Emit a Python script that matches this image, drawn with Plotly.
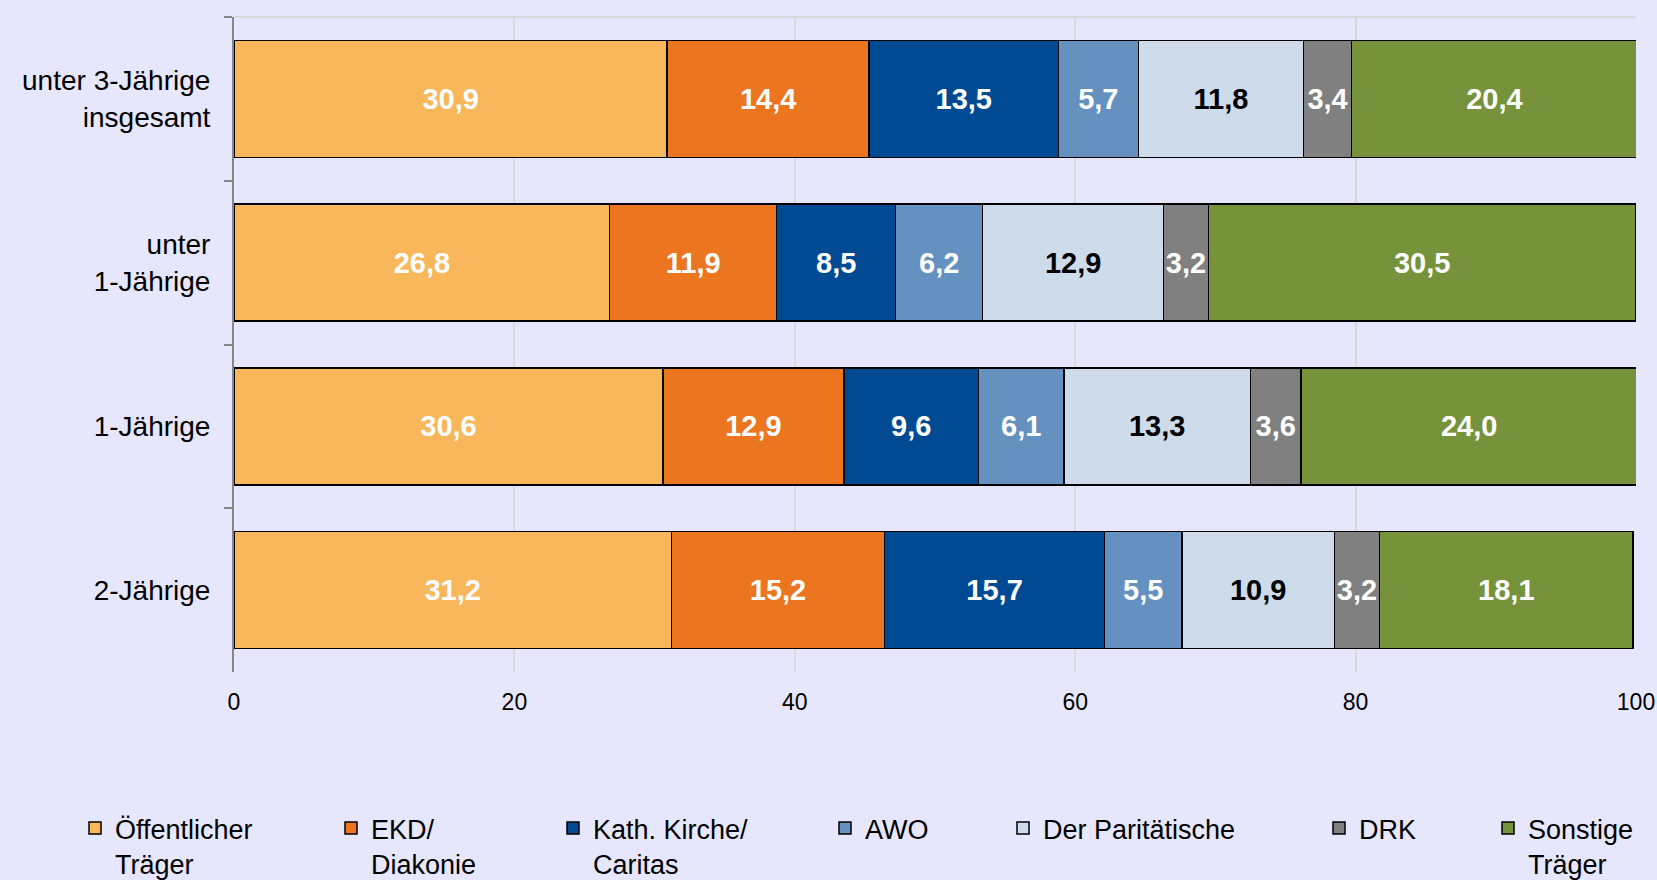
import plotly.graph_objects as go

categories = ["unter 3-Jährige<br>insgesamt", "unter<br>1-Jährige", "1-Jährige", "2-Jährige"]

series_names = ["Öffentlicher<br>Träger", "EKD/<br>Diakonie", "Kath. Kirche/<br>Caritas", "AWO",
                "Der Paritätische", "DRK", "Sonstige<br>Träger"]

oeffentlich = [30.9, 26.8, 30.6, 31.2]
ekd = [14.4, 11.9, 12.9, 15.2]
kath = [13.5, 8.5, 9.6, 15.7]
awo = [5.7, 6.2, 6.1, 5.5]
paritaet = [11.8, 12.9, 13.3, 10.9]
drk = [3.4, 3.2, 3.6, 3.2]
sonstige = [20.4, 30.5, 24.0, 18.1]

x_ticks = [0, 20, 40, 60, 80, 100]

series_values = [oeffentlich, ekd, kath, awo, paritaet, drk, sonstige]
colors = ["#F8B75A", "#EC7520", "#004A94", "#6591C0", "#CEDBEA", "#808080", "#76933C"]
text_colors = ["white", "white", "white", "white", "black", "white", "white"]

# legend symbol left edges in pixels (reference)
legend_px = [89, 345, 567, 839, 1017, 1333, 1502]

W, H = 1657, 880
ml, mr, mt, mb = 234, 21, 17, 208
pw = W - ml - mr
ph = H - mt - mb

fig = go.Figure()
for i, (name, vals) in enumerate(zip(series_names, series_values)):
    fig.add_trace(go.Bar(
        y=categories, x=vals, name=name, orientation="h",
        marker=dict(color=colors[i], line=dict(color="black", width=1.5)),
        text=[f"{v:.1f}".replace(".", ",") for v in vals],
        textposition="inside", insidetextanchor="middle", textangle=0,
        constraintext="none",
        textfont=dict(family="Liberation Sans, Arial", size=29, color=text_colors[i], weight="bold"),
        legend="legend" if i == 0 else f"legend{i+1}",
        hoverinfo="skip",
    ))

layout = dict(
    width=W, height=H,
    barmode="stack", bargap=0.285,
    paper_bgcolor="#E6E6FC", plot_bgcolor="#E6E6FC",
    margin=dict(l=ml, r=mr, t=mt, b=mb, pad=0, autoexpand=False),
    font=dict(family="Liberation Sans, Arial", size=27, color="black"),
    xaxis=dict(range=[0, 100], tickvals=x_ticks, ticktext=[str(t) for t in x_ticks],
               showgrid=True, gridcolor="#D9D9D9", gridwidth=2, zeroline=False,
               showline=False, ticks="", tickfont=dict(size=23), ticklabelstandoff=14),
    yaxis=dict(autorange="reversed", showline=True, linecolor="#868686", linewidth=2,
               ticks="outside", tickson="boundaries", ticklen=8, tickcolor="#868686", tickwidth=2,
               showgrid=False, tickfont=dict(size=28), ticklabelstandoff=16),
    shapes=[dict(type="line", xref="paper", yref="paper", x0=0, x1=1, y0=1, y1=1,
                 line=dict(color="#D9D9D9", width=2), layer="above")],
    showlegend=True,
)
for i in range(len(series_names)):
    key = "legend" if i == 0 else f"legend{i+1}"
    layout[key] = dict(
        x=(legend_px[i] - ml - 14) / pw, xanchor="left",
        y=(H - mb - 804) / ph, yanchor="top",
        bgcolor="rgba(0,0,0,0)", font=dict(size=27, color="black"),
        valign="top", orientation="v",
    )
fig.update_layout(**layout)
fig.write_html("out.html", config={"displayModeBar": False},
               post_script="document.body.style.margin='0px';")
